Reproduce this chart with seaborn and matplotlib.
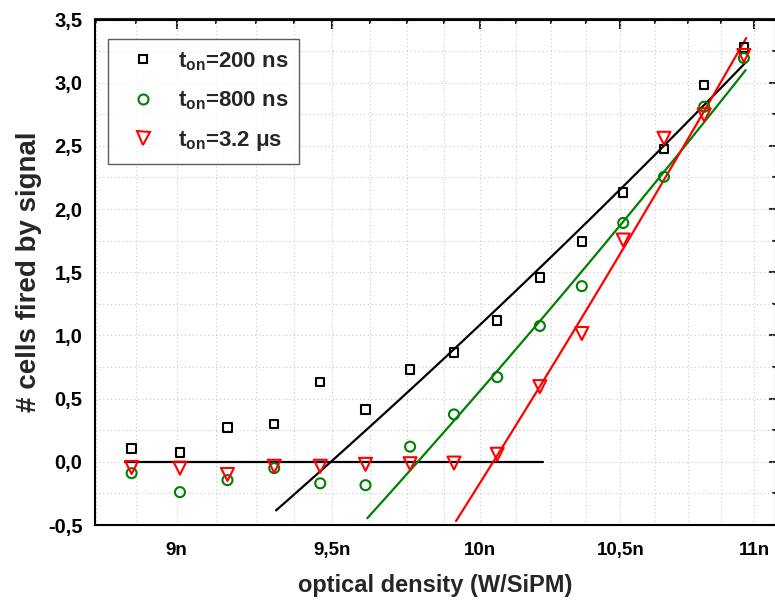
import numpy as np
import pandas as pd
import matplotlib
matplotlib.use("Agg")
import matplotlib.pyplot as plt
import seaborn as sns
from matplotlib.ticker import FixedLocator, FuncFormatter, NullFormatter
from matplotlib.lines import Line2D

# ---------------- data (x in units of 1e-9 W/SiPM) ----------------
density = [8.86, 9.01, 9.16, 9.31, 9.46, 9.61, 9.76, 9.91, 10.06, 10.21,
           10.36, 10.51, 10.66, 10.81, 10.96]
cells_200ns = [0.105, 0.075, 0.27, 0.30, 0.63, 0.415, 0.73, 0.865, 1.12, 1.46,
               1.745, 2.13, 2.475, 2.98, 3.28]
cells_800ns = [-0.09, -0.24, -0.145, -0.05, -0.17, -0.185, 0.12, 0.375, 0.67, 1.075,
               1.39, 1.89, 2.255, 2.81, 3.195]
cells_3200ns = [-0.045, -0.05, -0.10, -0.035, -0.035, -0.02, -0.015, -0.01, 0.06, 0.595,
                1.015, 1.755, 2.56, 2.745, 3.215]

# linear fits: slope, zero crossing, x range
fit_200 = dict(slope=2.147, x0=9.495, xmin=9.316, xmax=10.967)
fit_800 = dict(slope=2.625, x0=9.786, xmin=9.616, xmax=10.967)
fit_3200 = dict(slope=3.634, x0=10.046, xmin=9.917, xmax=10.969)
baseline_x = [8.84, 10.22]
baseline_y = [0.0, 0.0]

labels = [r"$\mathbf{t_{on}}$=200 ns", r"$\mathbf{t_{on}}$=800 ns", r"$\mathbf{t_{on}}$=3.2 μs"]
x_major = [9.0, 9.5, 10.0, 10.5, 11.0]
y_major = [-0.5, 0.0, 0.5, 1.0, 1.5, 2.0, 2.5, 3.0, 3.5]

# ---------------- style ----------------
sns.set_style("white")
plt.rcParams["font.family"] = ["Liberation Sans", "DejaVu Sans"]
plt.rcParams["mathtext.fontset"] = "custom"
plt.rcParams["mathtext.rm"] = "Liberation Sans"
plt.rcParams["mathtext.bf"] = "Liberation Sans:bold"
plt.rcParams["mathtext.it"] = "Liberation Sans:italic"

fig = plt.figure(figsize=(7.75, 6.01), dpi=100)
ax = fig.add_axes([95 / 775, 76 / 601, 681 / 775, 505.5 / 601])

GREEN = "#008000"
RED = "#ff0000"

def fit_df(f):
    xs = np.linspace(f["xmin"], f["xmax"], 60)
    return pd.DataFrame({"x": xs, "y": f["slope"] * (xs - f["x0"])})

sns.lineplot(x=baseline_x, y=baseline_y, color="black", lw=1.6, ax=ax)
for f, c in [(fit_200, "black"), (fit_800, GREEN), (fit_3200, RED)]:
    d = fit_df(f)
    sns.lineplot(data=d, x="x", y="y", color=c, lw=1.6, ax=ax, sort=False)

series = [(cells_200ns, "s", "black", 8.5 * 0.72),
          (cells_800ns, "o", GREEN, 10 * 0.72),
          (cells_3200ns, "v", RED, 13 * 0.72)]
for vals, m, c, ms in series:
    sns.scatterplot(x=density, y=vals, marker=m, s=ms ** 2, ax=ax, zorder=5)
    coll = ax.collections[-1]
    coll.set_facecolor("none")
    coll.set_edgecolor(c)
    coll.set_linewidth(1.5)

ax.set_xscale("log")
ax.set_xlim(8.748, 11.083)
ax.set_ylim(-0.5, 3.5)

x_minor = [8.75 + 0.125 * i for i in range(19)]
ax.xaxis.set_major_locator(FixedLocator(x_major))
ax.xaxis.set_minor_locator(FixedLocator(x_minor))
ax.xaxis.set_major_formatter(FuncFormatter(lambda v, p: f"{v:g}".replace(".", ",") + "n"))
ax.xaxis.set_minor_formatter(NullFormatter())
ax.yaxis.set_major_locator(FixedLocator(y_major))
ax.yaxis.set_minor_locator(FixedLocator([-0.25 + 0.5 * i for i in range(8)]))
ax.yaxis.set_major_formatter(FuncFormatter(lambda v, p: f"{v:.1f}".replace(".", ",")))

ax.grid(True, which="both", color="#c8c8c8", lw=0.8, ls=(0, (1, 2.5)))
ax.set_axisbelow(True)

for s in ax.spines.values():
    s.set_linewidth(1.5)
    s.set_color("black")

ax.tick_params(which="major", direction="out", length=7, width=1.5,
               pad=2, colors="black")
ax.tick_params(which="minor", direction="out", length=3.5, width=1.5)
ax.tick_params(axis="x", which="major", pad=5, labelsize=13.5)
ax.tick_params(axis="y", which="major", labelsize=14.5)
for lab in ax.get_xticklabels() + ax.get_yticklabels():
    lab.set_fontweight("bold")

# inward ticks on top and right
top = ax.secondary_xaxis("top")
top.set_xticks(x_major)
top.xaxis.set_minor_locator(FixedLocator(x_minor))
top.tick_params(which="major", direction="in", length=7, width=1.5, labeltop=False)
top.tick_params(which="minor", direction="in", length=3.5, width=1.5)
top.xaxis.set_minor_formatter(NullFormatter())
top.spines["top"].set_linewidth(1.5)
right = ax.secondary_yaxis("right")
right.set_yticks(y_major)
right.yaxis.set_minor_locator(FixedLocator([-0.25 + 0.5 * i for i in range(8)]))
right.tick_params(which="major", direction="in", length=5, width=1.5, labelright=False)
right.tick_params(which="minor", direction="in", length=3, width=1.5)

ax.set_xlabel("optical density (W/SiPM)", fontsize=17, fontweight="bold", labelpad=11)
ax.set_ylabel("# cells fired by signal", fontsize=20, fontweight="bold", labelpad=4)

handles = [Line2D([], [], ls="none", marker=m, ms=ms, mfc="none", mec=c, mew=1.5)
           for (_, m, c, ms) in series]
leg = ax.legend(handles, labels, loc="upper left",
                bbox_to_anchor=((107.7 - 95) / 681, (525 - 39) / 505.5),
                borderaxespad=0, frameon=True, fancybox=False,
                prop={"weight": "bold", "size": 16}, handletextpad=0.45,
                borderpad=0.5, labelspacing=0.75, handlelength=2.2)
leg.get_frame().set_edgecolor("#333333")
leg.get_frame().set_linewidth(1.0)

fig.savefig("out.png", dpi=100)
